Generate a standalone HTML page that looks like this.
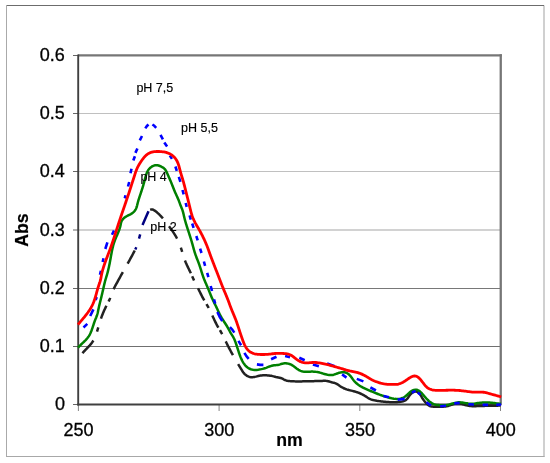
<!DOCTYPE html>
<html><head><meta charset="utf-8"><title>Abs vs nm</title>
<style>
html,body{margin:0;padding:0;background:#fff;}
body{width:550px;height:463px;overflow:hidden;}
svg{display:block;}
text{font-family:"Liberation Sans",Arial,Helvetica,sans-serif;fill:#000;stroke:#000;stroke-width:0.3px;}
.tick text{font-size:18px;}
.ttl{font-size:17.7px;font-weight:bold;stroke-width:0.2px;}
.ann text{font-size:12.5px;stroke-width:0.15px;}
</style></head><body>
<svg width="550" height="463" viewBox="0 0 550 463">
<rect width="550" height="463" fill="#fff"/>
<!-- outer frame -->
<line x1="6" x2="544.2" y1="5.5" y2="5.5" stroke="#6c6c6c" stroke-width="1"/>
<line x1="6.5" x2="6.5" y1="5" y2="457" stroke="#aaaaaa" stroke-width="1"/>
<line x1="544" x2="544" y1="6" y2="456.8" stroke="#d0d0d0" stroke-width="2"/>
<line x1="6" x2="544.6" y1="456.5" y2="456.5" stroke="#a8a8a8" stroke-width="1"/>
<!-- gridlines -->
<line x1="79" x2="500" y1="346.5" y2="346.5" stroke="#707070" stroke-width="1"/>
<line x1="79" x2="500" y1="288.5" y2="288.5" stroke="#787878" stroke-width="1"/>
<line x1="79" x2="500" y1="230" y2="230" stroke="#d2d2d2" stroke-width="2"/>
<line x1="79" x2="500" y1="171.5" y2="171.5" stroke="#c0c0c0" stroke-width="1"/>
<line x1="79" x2="500" y1="113.5" y2="113.5" stroke="#c0c0c0" stroke-width="1"/>

<!-- plot border -->
<line x1="78" x2="501.9" y1="55.4" y2="55.4" stroke="#767676" stroke-width="2.3"/>
<line x1="500.75" x2="500.75" y1="54.3" y2="405" stroke="#767676" stroke-width="2.3"/>
<g class="tick">
<line x1="73" x2="78" y1="404.5" y2="404.5" stroke="#555" stroke-width="0.9"/>
<line x1="73" x2="78" y1="346.5" y2="346.5" stroke="#555" stroke-width="0.9"/>
<line x1="73" x2="78" y1="288.5" y2="288.5" stroke="#555" stroke-width="0.9"/>
<line x1="73" x2="78" y1="230" y2="230" stroke="#555" stroke-width="0.9"/>
<line x1="73" x2="78" y1="171.5" y2="171.5" stroke="#555" stroke-width="0.9"/>
<line x1="73" x2="78" y1="113.5" y2="113.5" stroke="#555" stroke-width="0.9"/>
<line x1="73" x2="78" y1="55.5" y2="55.5" stroke="#555" stroke-width="0.9"/>
<line x1="78.4" x2="78.4" y1="404" y2="411" stroke="#666" stroke-width="0.8"/>
<line x1="219.1" x2="219.1" y1="404" y2="411" stroke="#666" stroke-width="0.8"/>
<line x1="359.8" x2="359.8" y1="404" y2="411" stroke="#666" stroke-width="0.8"/>
<line x1="500.5" x2="500.5" y1="404" y2="411" stroke="#666" stroke-width="0.8"/>
<text x="64.9" y="410.3" text-anchor="end">0</text>
<text x="64.9" y="352.1" text-anchor="end">0.1</text>
<text x="64.9" y="293.9" text-anchor="end">0.2</text>
<text x="64.9" y="235.7" text-anchor="end">0.3</text>
<text x="64.9" y="177.4" text-anchor="end">0.4</text>
<text x="64.9" y="119.2" text-anchor="end">0.5</text>
<text x="64.9" y="61.0" text-anchor="end">0.6</text>
<text x="78.6" y="436.2" text-anchor="middle">250</text>
<text x="219.3" y="436.2" text-anchor="middle">300</text>
<text x="360.0" y="436.2" text-anchor="middle">350</text>
<text x="500.7" y="436.2" text-anchor="middle">400</text>
</g>
<!-- axes -->
<line x1="78.2" x2="78.2" y1="54.4" y2="405.4" stroke="#404040" stroke-width="1.9"/>
<line x1="77.2" x2="500" y1="404.5" y2="404.5" stroke="#404040" stroke-width="1.8"/>
<!-- series -->
<g fill="none" stroke-linejoin="round">
<path d="M135.30,249.44 L135.82,248.36 L136.30,247.26 M139.02,238.67 L139.33,237.51 L139.64,236.35 L139.96,235.20 L140.20,234.34 M142.5,225 L148.5,211.3" stroke="#000080" stroke-width="2.5"/>
<path d="M82.40,353.20 L83.19,352.32 L84.00,351.46 L84.83,350.59 L85.67,349.72 L86.51,348.86 L87.35,347.98 L88.18,347.10 L89.00,346.21 L89.81,345.31 L90.59,344.39 L91.34,343.45 L92.05,342.49 L92.73,341.51 L93.36,340.50 M100.94,318.69 L101.33,317.56 L101.74,316.43 L102.17,315.31 L102.61,314.19 L103.06,313.08 L103.52,311.97 L104.00,310.87 L104.49,309.77 L105.00,308.68 L105.51,307.60 L106.04,306.52 L106.44,305.71 M108.63,301.43 L109.15,300.35 L109.65,299.26 L110.12,298.16 L110.23,297.88 M113.63,289.22 L114.13,288.13 L114.66,287.06 L115.20,285.99 L115.76,284.93 L116.34,283.87 L116.92,282.82 L117.51,281.77 L118.09,280.72 L118.68,279.67 L119.26,278.62 L119.84,277.57 L120.42,276.52 L120.99,275.47 L121.57,274.41 L122.15,273.36 L122.73,272.31 L122.87,272.05 M127.60,263.70 L128.19,262.65 L128.78,261.60 L129.36,260.56 L129.94,259.50 L130.51,258.45 L131.09,257.40 L131.66,256.34 L132.23,255.29 L132.79,254.23 L133.35,253.17 L133.91,252.11 L134.47,251.04 L134.75,250.51 M150.18,209.91 L151.31,209.46 L152.48,209.49 L153.60,209.97 L154.66,210.62 L155.65,211.32 L156.58,212.06 L157.48,212.83 L158.36,213.63 L159.22,214.46 L160.07,215.31 L160.91,216.17 L161.72,217.06 L162.53,217.96 L162.92,218.41 M169.01,226.22 L169.72,227.19 L170.43,228.16 L171.13,229.14 L171.82,230.12 L172.51,231.11 L173.18,232.11 L173.84,233.11 L174.48,234.12 L175.11,235.15 L175.72,236.18 L176.32,237.22 L176.88,238.28 L177.02,238.54 M184.95,260.54 L185.40,261.65 L185.86,262.75 L186.35,263.85 L186.85,264.94 L187.36,266.02 L187.88,267.11 L188.41,268.19 L188.94,269.27 L189.46,270.35 L189.98,271.43 L190.50,272.52 L190.87,273.34 M198.01,288.21 L198.54,289.29 L199.08,290.36 L199.61,291.44 L200.14,292.52 L200.67,293.59 L201.20,294.67 L201.74,295.74 L202.29,296.81 L202.85,297.87 L203.42,298.92 L204.00,299.97 L204.30,300.49 M212.34,315.57 L212.85,316.66 L213.35,317.75 L213.86,318.84 L214.37,319.93 L214.88,321.02 L215.41,322.10 L215.94,323.17 L216.49,324.24 L217.05,325.30 L217.63,326.35 L218.22,327.39 L218.37,327.65 M225.75,341.39 L226.27,342.47 L226.80,343.55 L227.33,344.62 L227.87,345.69 L228.42,346.76 L228.97,347.83 L229.52,348.89 L230.08,349.95 L230.65,351.01 L231.22,352.07 L231.80,353.12 L232.38,354.17 L232.97,355.22 M238.11,364.02 L238.73,365.05 L239.34,366.08 L239.96,367.11 L240.58,368.13 L241.20,369.16 L241.84,370.19 L242.49,371.20 L243.17,372.20 L243.91,373.15 L244.71,374.05 L245.59,374.86 L246.57,375.58 L247.63,376.19 L248.75,376.67 L249.91,377.01 L251.10,377.18 L252.30,377.20 L253.50,377.10 L254.70,376.90 L255.88,376.64 L257.04,376.34 L258.20,376.04 L259.37,375.76 L260.54,375.54 L261.73,375.40 L262.93,375.32 L264.13,375.29 L265.34,375.29 L266.54,375.33 L267.75,375.39 L268.94,375.49 L270.13,375.64 L271.31,375.84 L272.48,376.10 L273.64,376.39 L274.80,376.69 L275.97,376.98 L277.15,377.23 L278.34,377.46 L279.53,377.71 L280.68,378.01 L281.81,378.42 L282.88,378.94 L283.94,379.52 L285.02,380.03 L286.15,380.42 L287.31,380.72 L288.50,380.93 L289.71,381.08 L290.92,381.19 L292.13,381.27 L293.33,381.32 L294.54,381.37 L295.73,381.39 L296.93,381.41 L298.13,381.41 L299.32,381.40 L300.52,381.39 L301.72,381.38 L302.92,381.36 L304.12,381.34 L305.32,381.32 L306.52,381.29 L307.72,381.27 L308.92,381.24 L310.12,381.21 L311.32,381.19 L312.51,381.16 L313.71,381.13 L314.90,381.10 L316.10,381.07 L317.30,381.04 L318.50,381.00 L319.70,380.97 L320.91,380.93 L322.12,380.88 L323.33,380.84 L324.54,380.83 L325.75,380.87 L326.94,380.98 L328.11,381.18 L329.26,381.49 L330.40,381.86 L331.55,382.23 L332.71,382.55 L333.89,382.81 L335.04,383.11 L336.14,383.56 L337.18,384.13 L338.19,384.79 L339.19,385.49 L340.19,386.19 L341.21,386.85 L342.25,387.46 L343.32,388.01 L344.41,388.51 L345.52,388.96 L346.65,389.36 L347.79,389.71 L348.95,390.04 L350.11,390.34 L351.28,390.62 L352.45,390.91 L353.61,391.21 L354.77,391.52 L355.93,391.85 L357.07,392.21 L358.21,392.60 L359.33,393.03 L360.43,393.50 L361.52,394.01 L362.59,394.56 L363.64,395.14 L364.67,395.77 L365.68,396.42 L366.69,397.07 L367.71,397.71 L368.75,398.32 L369.81,398.86 L370.91,399.32 L372.05,399.71 L373.21,400.03 L374.38,400.31 L375.56,400.55 L376.75,400.77 L377.94,400.96 L379.12,401.13 L380.31,401.29 L381.50,401.43 L382.69,401.57 L383.88,401.69 L385.08,401.81 L386.27,401.91 L387.47,402.00 L388.67,402.08 L389.87,402.14 L391.07,402.19 L392.27,402.21 L393.47,402.21 L394.67,402.20 L395.86,402.19 L397.06,402.15 L398.25,402.09 L399.45,401.99 L400.65,401.84 L401.87,401.62 L403.07,401.31 L404.23,400.91 L405.31,400.38 L406.27,399.71 L407.11,398.88 L407.84,397.94 L408.52,396.94 L409.20,395.92 L409.93,394.95 L410.73,394.05 L411.62,393.24 L412.60,392.53 L413.69,391.96 L414.86,391.58 L416.04,391.50 L417.20,391.80 L418.28,392.40 L419.21,393.21 L419.97,394.14 L420.62,395.15 L421.21,396.20 L421.80,397.25 L422.42,398.27 L423.08,399.26 L423.78,400.23 L424.52,401.18 L425.30,402.11 L426.11,403.02 L426.97,403.91 L427.89,404.74 L428.85,405.46 L429.89,406.03 L430.99,406.41 L432.16,406.62 L433.36,406.70 L434.59,406.71 L435.82,406.70 L437.03,406.72 L438.23,406.75 L439.43,406.79 L440.62,406.80 L441.82,406.78 L443.02,406.72 L444.22,406.61 L445.42,406.45 L446.60,406.25 L447.77,405.98 L448.92,405.67 L450.06,405.31 L451.19,404.92 L452.33,404.53 L453.49,404.14 L454.66,403.77 L455.84,403.47 L457.03,403.26 L458.21,403.19 L459.38,403.28 L460.54,403.51 L461.69,403.85 L462.84,404.25 L463.99,404.66 L465.15,405.05 L466.31,405.37 L467.48,405.63 L468.67,405.83 L469.85,405.98 L471.04,406.09 L472.24,406.15 L473.44,406.18 L474.64,406.18 L475.84,406.15 L477.04,406.12 L478.25,406.07 L479.45,406.02 L480.65,405.98 L481.85,405.94 L483.06,405.91 L484.26,405.88 L485.45,405.86 L486.65,405.84 L487.85,405.83 L489.05,405.81 L490.25,405.80 L491.45,405.78 L492.64,405.76 L493.84,405.74 L495.04,405.71 L496.24,405.68 L497.44,405.64 L498.64,405.59 L499.84,405.53 L500.50,405.50 M97.02,331.63 L97.37,330.47 L97.71,329.31 L98.05,328.15 L98.30,327.28 M180.84,247.68 L181.22,248.82 L181.58,249.97 L181.94,251.12 L182.20,251.98 M192.20,276.36 L192.68,277.46 L193.17,278.55 L193.68,279.64 L194.07,280.45 M206.45,304.10 L207.06,305.14 L207.66,306.17 L208.24,307.22 L208.66,308.02 M219.93,330.22 L220.55,331.24 L221.16,332.28 L221.74,333.32 L222.17,334.11" stroke="#222222" stroke-width="2.5"/>
<path d="M78.00,347.70 L78.79,346.81 L79.61,345.95 L80.46,345.10 L81.33,344.27 L82.21,343.44 L83.10,342.61 L83.98,341.78 L84.84,340.94 L85.69,340.08 L86.50,339.19 L87.28,338.28 L88.01,337.34 L88.69,336.36 L89.32,335.34 L89.89,334.29 L90.42,333.20 L90.90,332.10 L91.36,330.98 L91.78,329.85 L92.18,328.71 L92.57,327.57 L92.94,326.43 L93.31,325.29 L93.68,324.15 L94.06,323.01 L94.45,321.88 L94.86,320.76 L95.30,319.64 L95.76,318.53 L96.22,317.42 L96.65,316.30 L97.05,315.17 L97.39,314.02 L97.68,312.86 L97.94,311.68 L98.18,310.50 L98.42,309.33 L98.67,308.15 L98.93,306.98 L99.20,305.81 L99.48,304.64 L99.76,303.47 L100.05,302.31 L100.34,301.15 L100.63,299.98 L100.92,298.82 L101.21,297.66 L101.49,296.49 L101.77,295.32 L102.05,294.16 L102.32,292.99 L102.59,291.82 L102.86,290.65 L103.13,289.48 L103.39,288.31 L103.65,287.13 L103.91,285.96 L104.18,284.79 L104.46,283.62 L104.74,282.46 L105.04,281.30 L105.36,280.14 L105.69,278.99 L106.04,277.84 L106.39,276.69 L106.74,275.54 L107.08,274.39 L107.40,273.24 L107.71,272.08 L108.00,270.92 L108.28,269.75 L108.55,268.58 L108.82,267.41 L109.07,266.24 L109.31,265.06 L109.55,263.89 L109.78,262.71 L110.00,261.53 L110.22,260.34 L110.44,259.16 L110.65,257.97 L110.86,256.79 L111.07,255.60 L111.29,254.42 L111.51,253.23 L111.73,252.05 L111.97,250.87 L112.21,249.69 L112.47,248.52 L112.75,247.35 L113.04,246.19 L113.35,245.03 L113.68,243.88 L114.04,242.74 L114.43,241.60 L114.84,240.48 L115.28,239.36 L115.74,238.24 L116.21,237.13 L116.69,236.03 L117.17,234.92 L117.64,233.81 L118.11,232.70 L118.56,231.59 L119.00,230.47 L119.40,229.34 L119.78,228.20 L120.11,227.05 L120.41,225.89 L120.65,224.72 L120.88,223.53 L121.15,222.37 L121.57,221.24 L122.14,220.18 L122.86,219.20 L123.69,218.32 L124.61,217.55 L125.60,216.87 L126.64,216.26 L127.71,215.69 L128.78,215.15 L129.85,214.60 L130.90,214.03 L131.92,213.39 L132.89,212.68 L133.80,211.87 L134.62,210.98 L135.33,210.02 L135.90,208.98 L136.37,207.88 L136.75,206.74 L137.07,205.57 L137.36,204.39 L137.65,203.20 L137.96,202.03 L138.29,200.87 L138.63,199.72 L138.99,198.58 L139.35,197.44 L139.73,196.31 L140.11,195.17 L140.49,194.04 L140.87,192.90 L141.25,191.76 L141.63,190.62 L142.00,189.48 L142.36,188.33 L142.72,187.19 L143.06,186.04 L143.39,184.89 L143.71,183.73 L144.02,182.58 L144.33,181.42 L144.63,180.26 L144.93,179.10 L145.24,177.93 L145.55,176.76 L145.88,175.59 L146.24,174.43 L146.64,173.30 L147.10,172.19 L147.64,171.12 L148.26,170.10 L148.97,169.13 L149.78,168.24 L150.68,167.42 L151.67,166.71 L152.74,166.10 L153.88,165.62 L155.07,165.31 L156.26,165.18 L157.44,165.26 L158.60,165.54 L159.74,165.97 L160.86,166.46 L161.96,167.01 L163.01,167.61 L163.97,168.31 L164.81,169.13 L165.53,170.06 L166.15,171.09 L166.70,172.17 L167.21,173.30 L167.70,174.43 L168.18,175.54 L168.67,176.65 L169.15,177.75 L169.63,178.84 L170.11,179.93 L170.58,181.03 L171.04,182.13 L171.49,183.23 L171.93,184.34 L172.37,185.46 L172.81,186.58 L173.25,187.69 L173.69,188.81 L174.14,189.93 L174.59,191.04 L175.06,192.15 L175.54,193.25 L176.04,194.35 L176.54,195.44 L177.04,196.53 L177.53,197.63 L178.01,198.72 L178.48,199.83 L178.93,200.94 L179.34,202.06 L179.74,203.20 L180.15,204.33 L180.58,205.45 L181.03,206.56 L181.49,207.67 L181.95,208.78 L182.37,209.90 L182.74,211.04 L183.06,212.19 L183.36,213.35 L183.64,214.53 L183.90,215.70 L184.17,216.87 L184.45,218.04 L184.75,219.20 L185.06,220.36 L185.38,221.52 L185.71,222.68 L186.05,223.83 L186.40,224.97 L186.75,226.12 L187.12,227.26 L187.48,228.41 L187.85,229.55 L188.22,230.69 L188.60,231.83 L188.97,232.97 L189.34,234.11 L189.72,235.25 L190.08,236.39 L190.45,237.54 L190.80,238.68 L191.16,239.83 L191.50,240.98 L191.84,242.13 L192.17,243.29 L192.49,244.44 L192.81,245.60 L193.12,246.76 L193.44,247.92 L193.76,249.07 L194.09,250.23 L194.43,251.38 L194.78,252.53 L195.15,253.67 L195.53,254.80 L195.93,255.93 L196.35,257.06 L196.78,258.18 L197.22,259.30 L197.66,260.41 L198.10,261.53 L198.53,262.65 L198.95,263.78 L199.35,264.91 L199.74,266.04 L200.11,267.18 L200.48,268.33 L200.84,269.47 L201.20,270.62 L201.56,271.76 L201.92,272.91 L202.28,274.05 L202.66,275.19 L203.05,276.32 L203.46,277.45 L203.88,278.57 L204.32,279.69 L204.77,280.80 L205.23,281.91 L205.70,283.01 L206.17,284.11 L206.65,285.22 L207.13,286.32 L207.60,287.42 L208.08,288.53 L208.54,289.63 L208.99,290.75 L209.44,291.86 L209.89,292.97 L210.34,294.09 L210.79,295.20 L211.25,296.31 L211.72,297.41 L212.20,298.51 L212.70,299.60 L213.21,300.68 L213.73,301.76 L214.26,302.84 L214.79,303.92 L215.32,304.99 L215.85,306.07 L216.37,307.15 L216.89,308.24 L217.40,309.33 L217.91,310.42 L218.42,311.51 L218.93,312.59 L219.45,313.67 L219.99,314.75 L220.54,315.81 L221.11,316.86 L221.70,317.91 L222.32,318.93 L222.96,319.95 L223.61,320.96 L224.26,321.96 L224.92,322.97 L225.58,323.97 L226.22,324.99 L226.85,326.01 L227.46,327.04 L228.04,328.09 L228.61,329.15 L229.18,330.21 L229.75,331.27 L230.33,332.32 L230.92,333.36 L231.55,334.38 L232.20,335.39 L232.84,336.40 L233.44,337.44 L233.98,338.51 L234.48,339.60 L234.94,340.71 L235.37,341.84 L235.78,342.97 L236.17,344.11 L236.55,345.26 L236.92,346.40 L237.29,347.54 L237.65,348.69 L238.02,349.83 L238.39,350.97 L238.76,352.11 L239.14,353.24 L239.53,354.38 L239.94,355.51 L240.36,356.63 L240.81,357.74 L241.29,358.85 L241.79,359.94 L242.34,361.01 L242.92,362.06 L243.55,363.10 L244.23,364.10 L244.96,365.07 L245.76,365.98 L246.62,366.82 L247.56,367.57 L248.57,368.23 L249.64,368.78 L250.77,369.23 L251.94,369.57 L253.12,369.80 L254.32,369.92 L255.52,369.95 L256.72,369.89 L257.92,369.76 L259.12,369.58 L260.31,369.37 L261.48,369.12 L262.65,368.85 L263.81,368.54 L264.96,368.19 L266.10,367.82 L267.23,367.40 L268.36,366.96 L269.48,366.52 L270.62,366.11 L271.76,365.75 L272.92,365.47 L274.10,365.29 L275.30,365.19 L276.50,365.10 L277.69,364.95 L278.86,364.71 L280.01,364.37 L281.16,364.00 L282.31,363.66 L283.48,363.40 L284.68,363.27 L285.89,363.27 L287.09,363.39 L288.28,363.63 L289.44,363.98 L290.56,364.42 L291.64,364.94 L292.69,365.54 L293.70,366.20 L294.68,366.91 L295.64,367.65 L296.59,368.40 L297.56,369.13 L298.54,369.80 L299.57,370.39 L300.66,370.87 L301.81,371.25 L302.98,371.52 L304.19,371.71 L305.40,371.80 L306.60,371.83 L307.80,371.80 L309.00,371.74 L310.20,371.68 L311.40,371.62 L312.59,371.60 L313.79,371.63 L314.99,371.72 L316.18,371.87 L317.37,372.06 L318.55,372.30 L319.72,372.58 L320.87,372.90 L322.02,373.23 L323.17,373.58 L324.32,373.93 L325.48,374.26 L326.65,374.57 L327.83,374.83 L329.03,375.02 L330.22,375.12 L331.42,375.10 L332.60,374.94 L333.77,374.67 L334.93,374.31 L336.07,373.90 L337.19,373.47 L338.31,373.05 L339.45,372.68 L340.62,372.40 L341.82,372.22 L343.02,372.16 L344.23,372.26 L345.42,372.52 L346.56,372.94 L347.63,373.50 L348.61,374.19 L349.48,374.99 L350.28,375.88 L351.03,376.83 L351.76,377.82 L352.47,378.80 L353.21,379.77 L353.97,380.70 L354.76,381.61 L355.59,382.48 L356.45,383.30 L357.37,384.07 L358.32,384.79 L359.31,385.47 L360.34,386.11 L361.38,386.71 L362.45,387.28 L363.52,387.82 L364.60,388.34 L365.69,388.84 L366.79,389.33 L367.89,389.81 L368.99,390.28 L370.09,390.76 L371.19,391.23 L372.30,391.70 L373.40,392.17 L374.51,392.63 L375.62,393.09 L376.73,393.53 L377.85,393.97 L378.97,394.40 L380.10,394.81 L381.23,395.22 L382.36,395.62 L383.50,396.00 L384.64,396.37 L385.78,396.74 L386.93,397.08 L388.09,397.41 L389.25,397.72 L390.41,398.01 L391.58,398.28 L392.76,398.51 L393.94,398.72 L395.14,398.87 L396.34,398.95 L397.54,398.96 L398.75,398.89 L399.94,398.72 L401.11,398.44 L402.26,398.06 L403.37,397.57 L404.42,396.99 L405.42,396.31 L406.35,395.56 L407.23,394.76 L408.09,393.92 L408.96,393.09 L409.86,392.27 L410.80,391.52 L411.80,390.85 L412.88,390.30 L414.03,389.91 L415.23,389.72 L416.44,389.76 L417.59,390.06 L418.66,390.59 L419.67,391.29 L420.61,392.10 L421.48,392.95 L422.30,393.83 L423.08,394.74 L423.85,395.65 L424.61,396.56 L425.39,397.47 L426.20,398.35 L427.03,399.21 L427.89,400.05 L428.79,400.86 L429.72,401.64 L430.68,402.37 L431.69,403.04 L432.74,403.62 L433.84,404.09 L434.97,404.45 L436.14,404.71 L437.34,404.90 L438.54,405.04 L439.75,405.16 L440.95,405.27 L442.16,405.33 L443.35,405.35 L444.54,405.30 L445.72,405.17 L446.90,404.97 L448.08,404.72 L449.25,404.43 L450.41,404.11 L451.58,403.78 L452.75,403.45 L453.92,403.14 L455.09,402.86 L456.26,402.63 L457.44,402.46 L458.63,402.37 L459.82,402.36 L461.02,402.43 L462.22,402.54 L463.42,402.71 L464.62,402.90 L465.81,403.12 L467.00,403.33 L468.19,403.52 L469.37,403.68 L470.56,403.78 L471.75,403.80 L472.94,403.74 L474.14,403.62 L475.33,403.46 L476.52,403.28 L477.72,403.10 L478.91,402.92 L480.11,402.77 L481.30,402.64 L482.50,402.53 L483.69,402.45 L484.89,402.41 L486.08,402.40 L487.28,402.43 L488.48,402.48 L489.68,402.57 L490.87,402.67 L492.07,402.80 L493.27,402.93 L494.47,403.07 L495.66,403.22 L496.85,403.37 L498.05,403.51 L499.24,403.64 L500.43,403.75 L501.00,403.80" stroke="#008000" stroke-width="2.5"/>
<path d="M83.5,327.5 L87.3,323.9 M90.2,316 L93.4,309.4 M95.6,300 L96.7,297 M100,274.8 L100.9,270.8 M102.7,262 L103.5,258.3 M105.3,249 L107.4,242.4 M112,234.7 L114,230.5 M124.8,198.4 L125.5,195.2 M128,186.5 L129.2,182 M130.5,173.2 L131.5,168.8 M133.3,160.5 L134.9,156.2 M135.4,152.9 L137.4,148.5 M139.8,140.4 L142,136 M145.3,128.4 L146.9,126 L148.5,124.5 M152.4,124.5 L154.3,125.8 L156.2,127.8 M160.5,134.9 L162.9,139.3 M164.3,142.5 L167.1,146.6 M169.8,155.6 L172,158.9 M175.4,166.5 L176.8,170.9 M178.8,176.9 L180.4,181.8 M182.5,190 L183.7,194.4 M185.7,203 L186.7,206.9 M189.6,215.4 L190.8,219.7 M192.2,223.5 L193.6,227.9 M196.3,236 L197.7,240.4 M200.1,248.6 L201.5,253 M203.9,261.5 L205.1,265.8 M207.2,272.8 L208.4,277.2 M210.7,286 L212,291 M214,299.4 L215.2,303.7 M217.4,312 L219.6,316.8 L222.3,321 M229.9,327.2 L232.3,329.6 L234.3,332.6 M238.4,340.9 L241.1,345.3 M244.4,352.9 L246.4,356.2 L248.7,358.9 M256.9,364.4 L260.2,364.9 L263.4,364.9 M271.1,359.2 L276.5,356.7 M285.1,356.1 L290,357.2 M299.3,357.7 L304.7,360.2 M312.9,364.5 L318.9,366.2 M327.1,363.4 L334.7,366.2 M342.1,374.4 L346.5,377.6 M356.8,378.9 L363.4,381.4 M370.4,387.4 L375.9,390.5 M383.5,396 L389,397.3 M397.6,399.6 L404.7,398.9 M411.8,392.5 L415.6,390.9 M417.8,392.5 L420.5,394.7 M426.5,402.3 L430.9,405.6 M440.2,406.2 L446,405.8 M454.3,403.4 L459.7,402.9 M468.4,404.2 L473.9,404.5 M482.6,404.9 L488.1,404.9 M496.3,404.9 L501.2,404.5" stroke="#0000ff" stroke-width="2.6"/>
<path d="M78.00,324.60 L78.75,323.70 L79.52,322.79 L80.29,321.88 L81.06,320.97 L81.84,320.05 L82.61,319.13 L83.39,318.21 L84.16,317.28 L84.92,316.34 L85.67,315.39 L86.42,314.44 L87.14,313.47 L87.86,312.50 L88.55,311.51 L89.23,310.52 L89.89,309.51 L90.52,308.49 L91.12,307.45 L91.69,306.40 L92.24,305.33 L92.75,304.25 L93.23,303.15 L93.68,302.04 L94.10,300.92 L94.50,299.79 L94.88,298.65 L95.24,297.50 L95.59,296.34 L95.92,295.19 L96.25,294.03 L96.56,292.87 L96.88,291.71 L97.20,290.55 L97.52,289.40 L97.86,288.25 L98.21,287.10 L98.58,285.96 L98.97,284.82 L99.36,283.69 L99.75,282.55 L100.11,281.40 L100.44,280.25 L100.71,279.09 L100.96,277.91 L101.18,276.73 L101.39,275.55 L101.63,274.37 L101.88,273.20 L102.16,272.03 L102.45,270.87 L102.77,269.72 L103.10,268.57 L103.44,267.42 L103.81,266.28 L104.18,265.14 L104.57,264.00 L104.96,262.87 L105.37,261.74 L105.78,260.61 L106.20,259.48 L106.63,258.35 L107.06,257.23 L107.49,256.10 L107.92,254.98 L108.36,253.85 L108.79,252.73 L109.21,251.60 L109.64,250.48 L110.06,249.35 L110.47,248.22 L110.87,247.09 L111.27,245.95 L111.67,244.82 L112.06,243.68 L112.44,242.54 L112.82,241.41 L113.20,240.27 L113.57,239.13 L113.94,237.99 L114.31,236.84 L114.68,235.70 L115.04,234.56 L115.41,233.42 L115.77,232.27 L116.13,231.13 L116.50,229.99 L116.86,228.85 L117.23,227.70 L117.59,226.56 L117.96,225.42 L118.33,224.28 L118.71,223.14 L119.08,222.00 L119.46,220.86 L119.84,219.72 L120.22,218.59 L120.61,217.45 L120.99,216.31 L121.38,215.18 L121.76,214.04 L122.15,212.90 L122.54,211.77 L122.93,210.63 L123.32,209.50 L123.70,208.36 L124.09,207.23 L124.48,206.09 L124.87,204.96 L125.26,203.82 L125.65,202.68 L126.03,201.55 L126.42,200.41 L126.80,199.27 L127.19,198.14 L127.57,197.00 L127.95,195.86 L128.33,194.72 L128.71,193.58 L129.08,192.45 L129.46,191.31 L129.83,190.16 L130.20,189.02 L130.57,187.88 L130.94,186.74 L131.31,185.60 L131.67,184.45 L132.04,183.31 L132.41,182.17 L132.77,181.03 L133.14,179.88 L133.50,178.74 L133.87,177.60 L134.23,176.46 L134.60,175.31 L134.97,174.17 L135.34,173.03 L135.73,171.89 L136.14,170.76 L136.57,169.64 L137.04,168.54 L137.54,167.45 L138.09,166.38 L138.66,165.32 L139.26,164.28 L139.89,163.26 L140.53,162.24 L141.19,161.24 L141.87,160.25 L142.57,159.28 L143.31,158.33 L144.07,157.40 L144.88,156.49 L145.72,155.62 L146.62,154.80 L147.57,154.07 L148.58,153.42 L149.65,152.89 L150.77,152.45 L151.93,152.11 L153.11,151.85 L154.29,151.67 L155.49,151.55 L156.68,151.48 L157.88,151.46 L159.08,151.49 L160.28,151.55 L161.48,151.64 L162.68,151.77 L163.87,151.94 L165.05,152.17 L166.21,152.46 L167.36,152.82 L168.49,153.25 L169.59,153.76 L170.65,154.34 L171.67,154.99 L172.64,155.71 L173.55,156.50 L174.41,157.36 L175.20,158.27 L175.92,159.24 L176.57,160.25 L177.14,161.29 L177.65,162.38 L178.09,163.48 L178.49,164.62 L178.84,165.77 L179.17,166.93 L179.48,168.10 L179.78,169.28 L180.08,170.45 L180.39,171.62 L180.72,172.79 L181.05,173.94 L181.39,175.09 L181.74,176.24 L182.09,177.39 L182.44,178.53 L182.78,179.68 L183.12,180.83 L183.45,181.98 L183.77,183.13 L184.08,184.29 L184.39,185.45 L184.68,186.61 L184.98,187.77 L185.27,188.94 L185.56,190.11 L185.85,191.27 L186.13,192.44 L186.43,193.60 L186.72,194.77 L187.02,195.93 L187.31,197.09 L187.61,198.26 L187.90,199.42 L188.20,200.58 L188.49,201.75 L188.77,202.91 L189.06,204.08 L189.34,205.24 L189.63,206.41 L189.91,207.57 L190.19,208.74 L190.48,209.91 L190.76,211.07 L191.06,212.24 L191.38,213.39 L191.72,214.54 L192.09,215.68 L192.50,216.81 L192.94,217.93 L193.41,219.03 L193.90,220.13 L194.42,221.22 L194.96,222.29 L195.52,223.36 L196.10,224.41 L196.69,225.46 L197.28,226.50 L197.89,227.54 L198.49,228.57 L199.09,229.61 L199.69,230.65 L200.28,231.70 L200.85,232.75 L201.41,233.81 L201.97,234.87 L202.51,235.95 L203.04,237.02 L203.56,238.10 L204.07,239.19 L204.57,240.28 L205.07,241.38 L205.55,242.47 L206.02,243.58 L206.49,244.69 L206.94,245.80 L207.38,246.91 L207.80,248.04 L208.22,249.16 L208.63,250.29 L209.03,251.42 L209.43,252.55 L209.83,253.68 L210.23,254.81 L210.64,255.94 L211.06,257.07 L211.48,258.19 L211.91,259.31 L212.34,260.43 L212.77,261.55 L213.20,262.67 L213.64,263.79 L214.07,264.91 L214.51,266.03 L214.94,267.14 L215.38,268.26 L215.81,269.38 L216.25,270.50 L216.68,271.62 L217.11,272.74 L217.55,273.86 L217.98,274.98 L218.41,276.10 L218.84,277.22 L219.27,278.33 L219.71,279.45 L220.14,280.57 L220.57,281.69 L221.01,282.81 L221.45,283.93 L221.88,285.05 L222.33,286.16 L222.77,287.27 L223.23,288.39 L223.68,289.50 L224.14,290.60 L224.61,291.71 L225.07,292.82 L225.54,293.92 L226.00,295.03 L226.46,296.14 L226.91,297.25 L227.36,298.36 L227.80,299.48 L228.23,300.60 L228.65,301.73 L229.06,302.85 L229.47,303.98 L229.88,305.11 L230.29,306.23 L230.72,307.36 L231.15,308.48 L231.59,309.59 L232.04,310.70 L232.50,311.81 L232.97,312.92 L233.43,314.03 L233.90,315.13 L234.36,316.24 L234.82,317.35 L235.26,318.46 L235.70,319.58 L236.13,320.70 L236.54,321.83 L236.94,322.96 L237.32,324.09 L237.71,325.23 L238.08,326.37 L238.45,327.51 L238.82,328.66 L239.19,329.80 L239.56,330.94 L239.93,332.08 L240.31,333.22 L240.69,334.36 L241.08,335.50 L241.47,336.63 L241.87,337.76 L242.27,338.89 L242.67,340.02 L243.08,341.15 L243.51,342.27 L243.96,343.38 L244.44,344.48 L244.96,345.57 L245.53,346.64 L246.15,347.68 L246.84,348.69 L247.58,349.63 L248.40,350.51 L249.30,351.30 L250.28,351.99 L251.33,352.58 L252.44,353.08 L253.58,353.49 L254.75,353.81 L255.93,354.06 L257.12,354.24 L258.32,354.37 L259.52,354.45 L260.72,354.49 L261.92,354.51 L263.12,354.51 L264.32,354.48 L265.52,354.44 L266.72,354.38 L267.91,354.29 L269.11,354.18 L270.31,354.05 L271.50,353.91 L272.69,353.76 L273.89,353.63 L275.08,353.51 L276.27,353.41 L277.46,353.36 L278.66,353.33 L279.85,353.34 L281.05,353.38 L282.25,353.44 L283.46,353.52 L284.67,353.61 L285.89,353.73 L287.09,353.90 L288.27,354.13 L289.41,354.47 L290.50,354.93 L291.52,355.52 L292.51,356.19 L293.47,356.93 L294.41,357.70 L295.36,358.47 L296.33,359.21 L297.32,359.90 L298.34,360.54 L299.39,361.12 L300.48,361.63 L301.60,362.05 L302.75,362.39 L303.93,362.65 L305.13,362.82 L306.33,362.90 L307.53,362.89 L308.73,362.82 L309.93,362.71 L311.13,362.59 L312.32,362.48 L313.52,362.41 L314.71,362.41 L315.90,362.48 L317.10,362.60 L318.29,362.78 L319.48,362.98 L320.66,363.21 L321.85,363.45 L323.03,363.69 L324.20,363.93 L325.38,364.18 L326.55,364.44 L327.71,364.71 L328.88,364.99 L330.04,365.29 L331.20,365.61 L332.35,365.93 L333.50,366.27 L334.66,366.60 L335.81,366.93 L336.97,367.26 L338.12,367.59 L339.27,367.92 L340.43,368.25 L341.58,368.59 L342.73,368.94 L343.87,369.29 L345.02,369.64 L346.17,369.99 L347.32,370.33 L348.48,370.65 L349.64,370.95 L350.81,371.21 L351.99,371.45 L353.17,371.67 L354.35,371.90 L355.53,372.13 L356.70,372.39 L357.86,372.69 L359.01,373.04 L360.14,373.44 L361.26,373.88 L362.36,374.37 L363.44,374.89 L364.50,375.46 L365.55,376.05 L366.58,376.67 L367.61,377.29 L368.63,377.92 L369.66,378.54 L370.70,379.13 L371.75,379.70 L372.83,380.23 L373.92,380.73 L375.02,381.20 L376.14,381.64 L377.27,382.05 L378.41,382.44 L379.57,382.80 L380.72,383.14 L381.89,383.44 L383.06,383.70 L384.24,383.93 L385.43,384.10 L386.62,384.23 L387.81,384.30 L389.01,384.34 L390.21,384.36 L391.41,384.37 L392.62,384.39 L393.82,384.43 L395.02,384.46 L396.22,384.42 L397.41,384.28 L398.58,384.02 L399.73,383.66 L400.86,383.22 L401.96,382.72 L403.04,382.16 L404.08,381.57 L405.11,380.94 L406.11,380.28 L407.10,379.61 L408.08,378.93 L409.06,378.25 L410.07,377.61 L411.13,377.02 L412.25,376.51 L413.43,376.13 L414.63,375.94 L415.80,376.04 L416.90,376.45 L417.93,377.09 L418.88,377.90 L419.77,378.78 L420.58,379.68 L421.35,380.61 L422.08,381.54 L422.80,382.49 L423.52,383.44 L424.26,384.39 L425.03,385.33 L425.85,386.23 L426.72,387.07 L427.65,387.82 L428.65,388.47 L429.72,389.00 L430.85,389.44 L432.01,389.77 L433.20,390.03 L434.40,390.22 L435.60,390.34 L436.79,390.41 L437.99,390.44 L439.19,390.44 L440.39,390.42 L441.59,390.39 L442.79,390.36 L443.99,390.33 L445.19,390.29 L446.39,390.26 L447.59,390.24 L448.79,390.22 L449.99,390.20 L451.19,390.19 L452.39,390.19 L453.59,390.21 L454.79,390.24 L455.99,390.28 L457.19,390.34 L458.39,390.42 L459.58,390.52 L460.78,390.64 L461.97,390.77 L463.16,390.92 L464.35,391.07 L465.54,391.23 L466.73,391.39 L467.92,391.55 L469.11,391.71 L470.31,391.85 L471.50,391.98 L472.70,392.08 L473.89,392.15 L475.09,392.20 L476.30,392.20 L477.50,392.17 L478.71,392.13 L479.91,392.10 L481.11,392.09 L482.30,392.13 L483.49,392.23 L484.67,392.41 L485.84,392.64 L487.01,392.92 L488.18,393.24 L489.34,393.57 L490.50,393.91 L491.65,394.25 L492.81,394.57 L493.97,394.89 L495.12,395.21 L496.28,395.52 L497.43,395.84 L498.59,396.16 L499.74,396.48 L500.90,396.81 L501.20,396.90" stroke="#ff0000" stroke-width="2.8"/>
</g>
<g class="ann">
<text x="136.4" y="91.5">pH 7,5</text>
<text x="181" y="132.4">pH 5,5</text>
<text x="140.4" y="180.5">pH 4</text>
<text x="150.2" y="230.5">pH 2</text>
</g>
<text class="ttl" x="289.5" y="445.8" text-anchor="middle">nm</text>
<text class="ttl" transform="translate(28.3,230.1) rotate(-90)" text-anchor="middle">Abs</text>
</svg>
</body></html>
